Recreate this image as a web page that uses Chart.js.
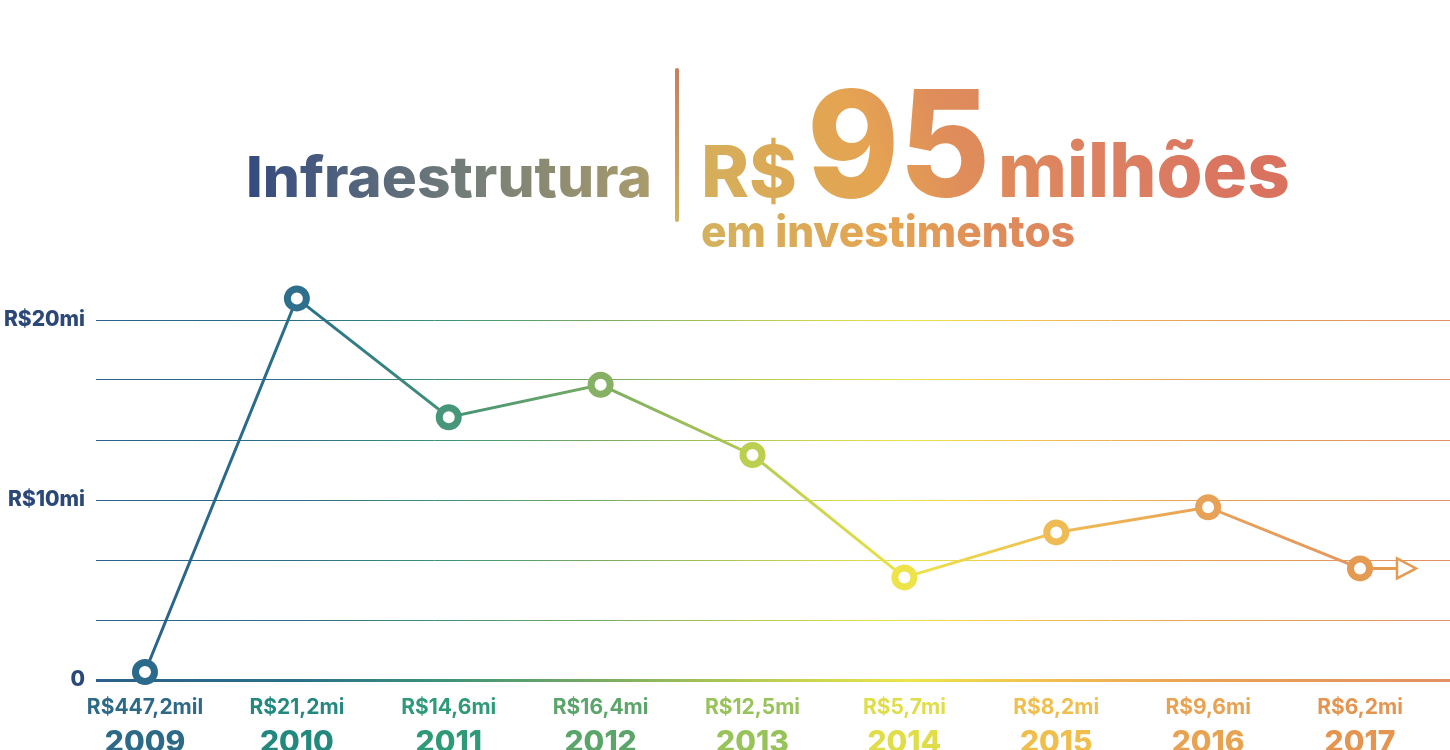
<!DOCTYPE html>
<html lang="pt-BR">
<head>
<meta charset="utf-8">
<title>Infraestrutura - R$95 milhões em investimentos</title>
<script src="https://cdn.jsdelivr.net/npm/chart.js@4/dist/chart.umd.min.js"></script>
<style>
    html, body { margin: 0; padding: 0; background: #fff; }
    #wrap { width: 1450px; height: 750px; position: relative; }
</style>
</head>
<body>
<div id="wrap"><canvas id="infraChart" width="1450" height="750"></canvas></div>
<script>
// Data
const years = ['2009', '2010', '2011', '2012', '2013', '2014', '2015', '2016', '2017'];
const valueLabels = ['R$447,2mil', 'R$21,2mi', 'R$14,6mi', 'R$16,4mi', 'R$12,5mi', 'R$5,7mi', 'R$8,2mi', 'R$9,6mi', 'R$6,2mi'];
const investments = [0.4472, 21.2, 14.6, 16.4, 12.5, 5.7, 8.2, 9.6, 6.2]; // R$ milhões
const gridValues = [0, 10 / 3, 20 / 3, 10, 40 / 3, 50 / 3, 20];
const yTickValues = [0, 10, 20];
const yTickLabels = ['0', 'R$10mi', 'R$20mi'];

// Colours
const pointColors = ['#2b6a8b', '#2d6f8c', '#46967a', '#86b164', '#bccf50', '#eee449', '#eebb55', '#e8a257', '#e59a52'];
const labelColors = ['#2d6a88', '#23897f', '#2e9a78', '#5ca56a', '#98c25a', '#dfdd48', '#f0be4c', '#e8a352', '#e59550'];
const FONT = 'Inter, "Open Sans", "Noto Sans", sans-serif';

// title gradients (page coordinates)
const leftTitleGrad = { x0: 246, y0: 0, x1: 652, y1: 0, stops: [[0, '#334a80'], [0.55, '#747e78'], [1, '#aa9c6c']] };
const rightTitleGrad = { x0: 700, y0: 250, x1: 1200, y1: 40,
    stops: [[0, '#d2b25e'], [0.2, '#dca956'], [0.35, '#e5a452'], [0.5, '#df8d5a'], [0.8, '#dc7e62'], [1, '#d9725f']] };

let gradCache = null;
function lineGradient(chart) {
    const area = chart.chartArea;
    if (!area) return pointColors[0];
    if (gradCache && gradCache.left === area.left && gradCache.right === area.right) return gradCache.g;
    const g = chart.ctx.createLinearGradient(area.left, 0, area.right, 0);
    g.addColorStop(0.00, '#2c5f8a');
    g.addColorStop(0.15, '#2a708a');
    g.addColorStop(0.26, '#3f9278');
    g.addColorStop(0.37, '#78ab62');
    g.addColorStop(0.49, '#b8cc52');
    g.addColorStop(0.60, '#ece448');
    g.addColorStop(0.71, '#f0bc52');
    g.addColorStop(0.82, '#e8a156');
    g.addColorStop(1.00, '#e29064');
    gradCache = { left: area.left, right: area.right, g: g };
    return g;
}

// draw text stretched/squeezed to a target width, gradient given in page coords
function fitText(ctx, text, x, y, width, font, grad) {
    ctx.font = font;
    const w = ctx.measureText(text).width;
    const s = width / w;
    ctx.save();
    ctx.translate(x, y);
    ctx.scale(s, 1);
    const g = ctx.createLinearGradient((grad.x0 - x) / s, grad.y0 - y, (grad.x1 - x) / s, grad.y1 - y);
    grad.stops.forEach(function(st) { g.addColorStop(st[0], st[1]); });
    ctx.fillStyle = g;
    ctx.fillText(text, 0, 0);
    ctx.restore();
}

const titlePlugin = {
    id: 'title',
    afterDraw(chart) {
        const ctx = chart.ctx;
        ctx.save();
        ctx.textAlign = 'left';
        ctx.textBaseline = 'alphabetic';

        fitText(ctx, 'Infraestrutura', 246, 197, 406, '800 56px ' + FONT, leftTitleGrad);

        const bar = ctx.createLinearGradient(0, 68, 0, 222);
        bar.addColorStop(0, '#c97d5c');
        bar.addColorStop(1, '#cfb25e');
        ctx.strokeStyle = bar;
        ctx.lineWidth = 4;
        ctx.lineCap = 'round';
        ctx.beginPath();
        ctx.moveTo(677, 70);
        ctx.lineTo(677, 220);
        ctx.stroke();

        fitText(ctx, 'R$', 701, 197, 96, '800 72px ' + FONT, rightTitleGrad);
        fitText(ctx, '95', 807, 197, 183, '800 148px ' + FONT, rightTitleGrad);
        fitText(ctx, 'milhões', 998, 197, 292, '800 76px ' + FONT, rightTitleGrad);
        fitText(ctx, 'em investimentos', 701, 247, 374, '800 44px ' + FONT, rightTitleGrad);
        ctx.restore();
    }
};

const xLabelPlugin = {
    id: 'xLabels',
    afterDraw(chart) {
        const ctx = chart.ctx;
        const x = chart.scales.x;
        ctx.save();
        ctx.textAlign = 'center';
        ctx.textBaseline = 'alphabetic';
        years.forEach(function(year, i) {
            const px = x.getPixelForValue(i);
            ctx.fillStyle = labelColors[i];
            ctx.font = '700 21px ' + FONT;
            ctx.fillText(valueLabels[i], px, 714);
            ctx.font = '800 30px ' + FONT;
            ctx.fillText(year, px, 752);
        });
        ctx.restore();
    }
};

// open arrow after the last point
const arrowPlugin = {
    id: 'arrow',
    beforeDatasetsDraw(chart) {
        const pts = chart.getDatasetMeta(0).data;
        const p = pts[pts.length - 1];
        const ctx = chart.ctx;
        const c = pointColors[pointColors.length - 1];
        ctx.save();
        ctx.strokeStyle = c;
        ctx.lineWidth = 3;
        ctx.beginPath();
        ctx.moveTo(p.x, p.y);
        ctx.lineTo(p.x + 37, p.y);
        ctx.stroke();
        ctx.lineWidth = 2.5;
        ctx.lineJoin = 'miter';
        ctx.fillStyle = '#fff';
        ctx.beginPath();
        ctx.moveTo(p.x + 37, p.y - 10);
        ctx.lineTo(p.x + 56, p.y);
        ctx.lineTo(p.x + 37, p.y + 10);
        ctx.closePath();
        ctx.fill();
        ctx.stroke();
        ctx.restore();
    }
};

function initializeInfraChart() {
    const chartCtx = document.getElementById('infraChart');
    if (!chartCtx) return;

    new Chart(chartCtx, {
        type: 'line',
        data: {
            datasets: [{
                label: 'Investimentos',
                data: investments.map(function(v, i) { return { x: i, y: v }; }),
                borderColor: function(context) { return lineGradient(context.chart); },
                borderWidth: 3,
                tension: 0,
                clip: false,
                pointRadius: 9.5,
                pointHoverRadius: 9.5,
                pointBorderWidth: 7,
                pointHoverBorderWidth: 7,
                pointBackgroundColor: '#ffffff',
                pointBorderColor: pointColors,
            }],
        },
        options: {
            responsive: false,
            animation: false,
            layout: {
                autoPadding: false,
                padding: { top: 280, bottom: 70, left: 0, right: 0 }
            },
            scales: {
                x: {
                    type: 'linear',
                    display: false,
                    min: -0.3226,
                    max: 8.5926,
                },
                y: {
                    min: 0,
                    max: 400 / 18,
                    afterFit: function(scale) { scale.width = 96; },
                    afterBuildTicks: function(scale) {
                        scale.ticks = gridValues.map(function(v) { return { value: v }; });
                    },
                    border: { display: false },
                    grid: {
                        drawTicks: false,
                        color: function(context) { return lineGradient(context.chart); },
                        lineWidth: function(context) {
                            return context.tick && context.tick.value === 0 ? 3 : 1;
                        },
                    },
                    ticks: {
                        padding: 11,
                        color: '#2b4878',
                        font: { family: FONT, size: 21, weight: '800' },
                        callback: function(value) {
                            const idx = yTickValues.findIndex(function(t) { return Math.abs(t - value) < 1e-6; });
                            return idx >= 0 ? yTickLabels[idx] : '';
                        }
                    }
                },
            },
            plugins: {
                legend: { display: false },
                tooltip: { enabled: false },
            }
        },
        plugins: [titlePlugin, xLabelPlugin, arrowPlugin]
    });
}

document.addEventListener('DOMContentLoaded', function() {
    initializeInfraChart();
});
</script>
</body>
</html>
